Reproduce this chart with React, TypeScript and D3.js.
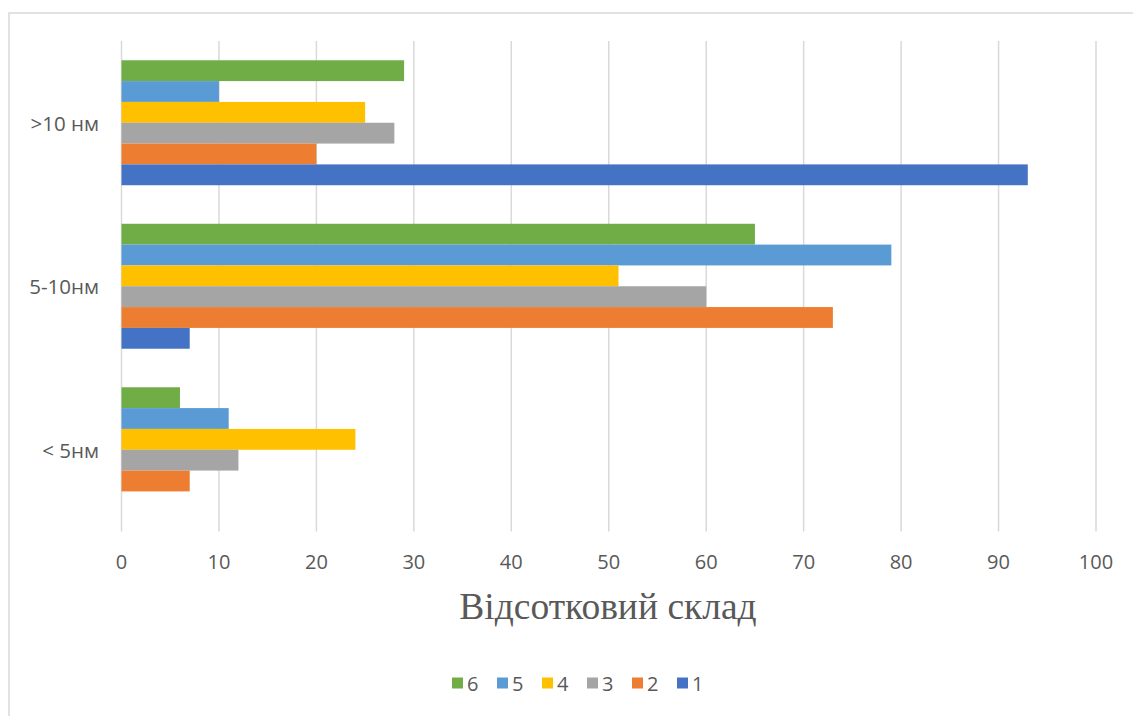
import React from "react";
import * as d3 from "d3";

// Size-fraction categories, listed top to bottom as drawn
const categories = [">10 нм", "5-10нм", "< 5нм"];
// Series names, top to bottom inside each group
const seriesNames = ["6", "5", "4", "3", "2", "1"];
// Values per series, in the order of `categories`
const series1 = [93, 7, 0];
const series2 = [20, 73, 7];
const series3 = [28, 60, 12];
const series4 = [25, 51, 24];
const series5 = [10, 79, 11];
const series6 = [29, 65, 6];
const xTicks = [0, 10, 20, 30, 40, 50, 60, 70, 80, 90, 100];
const axisTitle = "Відсотковий склад";

const seriesValues: Record<string, number[]> = {
  "1": series1,
  "2": series2,
  "3": series3,
  "4": series4,
  "5": series5,
  "6": series6,
};
const colors: Record<string, string> = {
  "1": "#4472C4",
  "2": "#ED7D31",
  "3": "#A5A5A5",
  "4": "#FFC000",
  "5": "#5B9BD5",
  "6": "#70AD47",
};

const W = 1133;
const H = 716;
const plot = { left: 121.5, right: 1096, top: 41, bottom: 531.5 };
const textColor = "#595959";
const gridColor = "#d9d9d9";
const sans = "'Open Sans', 'Noto Sans', sans-serif";

export default function App() {
  const x = d3.scaleLinear().domain([0, 100]).range([plot.left, plot.right]);
  const y0 = d3
    .scaleBand<string>()
    .domain(categories)
    .range([plot.top, plot.bottom])
    .paddingInner(0)
    .paddingOuter(0);
  const y1 = d3
    .scaleBand<string>()
    .domain(seriesNames)
    .range([0, y0.bandwidth()])
    .paddingInner(0)
    .paddingOuter(0.925);

  const legendX = d3.scalePoint<string>().domain(seriesNames).range([452, 677]);

  return (
    <svg
      width={W}
      height={H}
      style={{ position: "absolute", left: 0, top: 0, background: "#fff" }}
    >
      {/* chart frame */}
      <rect x={9} y={13} width={W + 20} height={H + 20} fill="#fff" stroke={gridColor} strokeWidth={1.5} />

      {/* vertical gridlines */}
      {xTicks.map((t) => (
        <line
          key={"g" + t}
          x1={x(t)}
          x2={x(t)}
          y1={plot.top}
          y2={plot.bottom}
          stroke={gridColor}
          strokeWidth={1.5}
        />
      ))}

      {/* bars */}
      {categories.map((c, ci) => (
        <g key={c} transform={`translate(0,${y0(c)})`}>
          {seriesNames.map((s) => {
            const v = seriesValues[s][ci];
            if (!v) return null;
            return (
              <rect
                key={s}
                x={x(0)}
                y={y1(s)}
                width={x(v) - x(0)}
                height={y1.bandwidth()}
                fill={colors[s]}
              />
            );
          })}
        </g>
      ))}

      {/* category labels */}
      {categories.map((c) => (
        <text
          key={"l" + c}
          x={99}
          y={(y0(c) as number) + y0.bandwidth() / 2}
          textAnchor="end"
          dominantBaseline="central"
          fontFamily={sans}
          fontSize={20.5}
          fill={textColor}
        >
          {c}
        </text>
      ))}

      {/* x tick labels */}
      {xTicks.map((t) => (
        <text
          key={"t" + t}
          x={x(t)}
          y={561}
          textAnchor="middle"
          dominantBaseline="central"
          fontFamily={sans}
          fontSize={20}
          fill={textColor}
        >
          {t}
        </text>
      ))}

      {/* axis title */}
      <text
        x={608}
        y={619}
        textAnchor="middle"
        fontFamily="'Liberation Serif', 'Times New Roman', serif"
        fontSize={37.5}
        fill={textColor}
      >
        {axisTitle}
      </text>

      {/* legend */}
      {seriesNames.map((s) => (
        <g key={"k" + s} transform={`translate(${legendX(s)},683)`}>
          <rect x={0} y={-5.5} width={11} height={11} fill={colors[s]} />
          <text
            x={15}
            y={0}
            dominantBaseline="central"
            fontFamily={sans}
            fontSize={20}
            fill={textColor}
          >
            {s}
          </text>
        </g>
      ))}
    </svg>
  );
}
